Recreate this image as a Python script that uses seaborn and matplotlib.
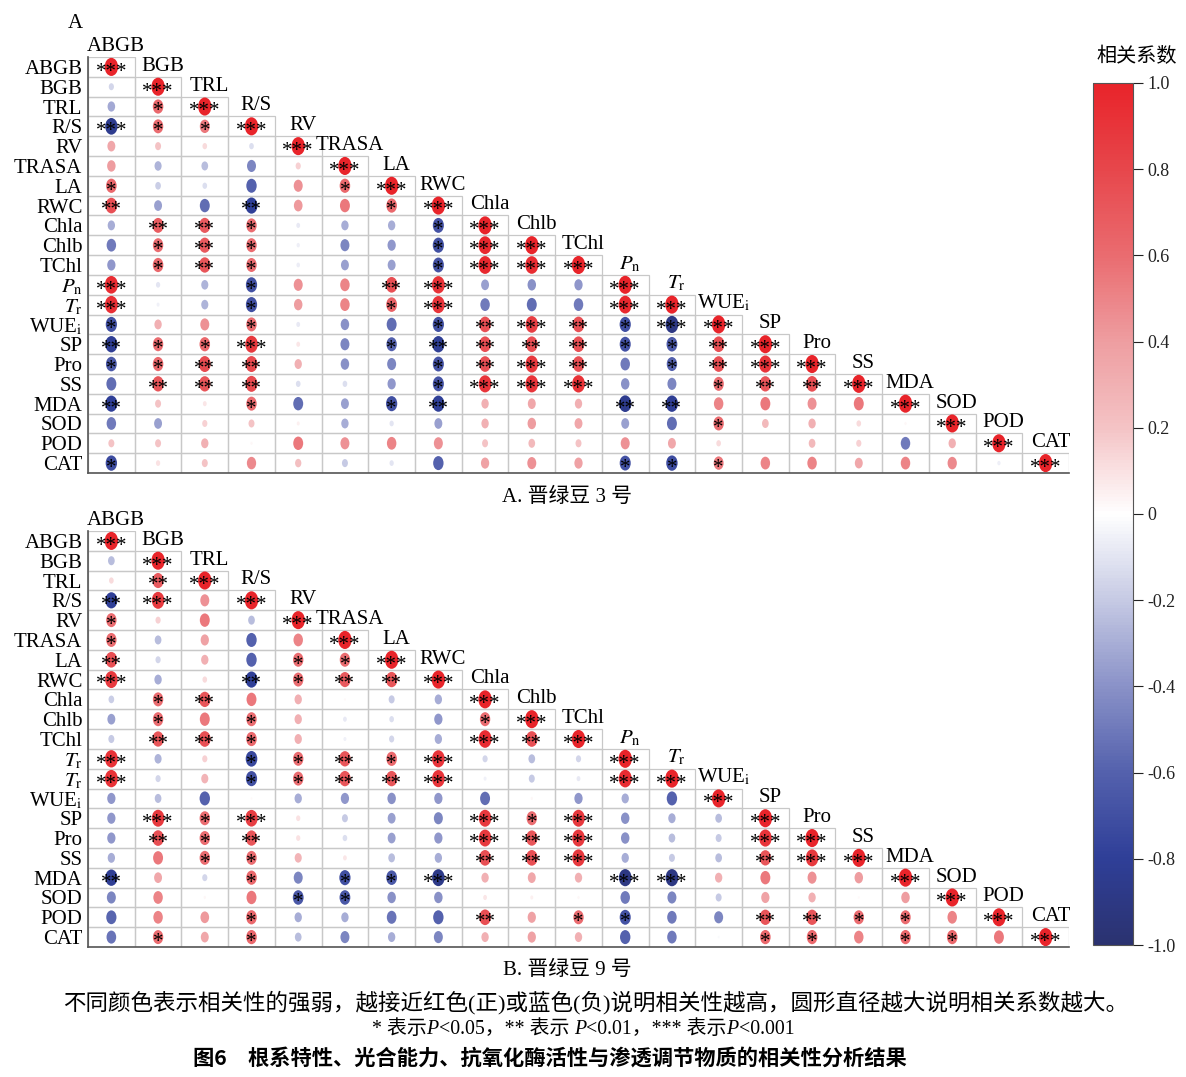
import numpy as np
import pandas as pd
import matplotlib
matplotlib.use("Agg")
import matplotlib.pyplot as plt
import seaborn as sns
from matplotlib.colors import LinearSegmentedColormap, Normalize
from matplotlib.patches import Rectangle
from matplotlib.path import Path
from matplotlib.offsetbox import TextArea, HPacker, AnnotationBbox
import matplotlib.cm as cm

plt.rcParams["font.family"] = ["Liberation Serif", "Noto Sans CJK SC"]
plt.rcParams["mathtext.fontset"] = "stix"
plt.rcParams["axes.unicode_minus"] = False

# variable labels
col_labels = ["ABGB", "BGB", "TRL", "R/S", "RV", "TRASA", "LA", "RWC", "Chla", "Chlb", "TChl",
              r"$P_{\rm n}$", r"$T_{\rm r}$", r"WUE$_{\rm i}$", "SP", "Pro", "SS", "MDA", "SOD", "POD", "CAT"]
row_labels_a = list(col_labels)
row_labels_b = ["ABGB", "BGB", "TRL", "R/S", "RV", "TRASA", "LA", "RWC", "Chla", "Chlb", "TChl",
                r"$T_{\rm r}$", r"$T_{\rm r}$", r"WUE$_{\rm i}$", "SP", "Pro", "SS", "MDA", "SOD", "POD", "CAT"]

# A. 晋绿豆 3 号 - correlation coefficients (lower triangle, row by row)
r_a = [
    [1.0],
    [-0.15, 1.0],
    [-0.32, 0.62, 1.0],
    [-0.85, 0.6, 0.55, 1.0],
    [0.35, 0.2, 0.12, -0.12, 1.0],
    [0.4, -0.28, -0.25, -0.45, 0.15, 1.0],
    [0.62, -0.18, -0.12, -0.6, 0.45, 0.62, 1.0],
    [0.75, -0.35, -0.55, -0.8, 0.42, 0.55, 0.62, 1.0],
    [-0.3, 0.68, 0.7, 0.6, -0.08, -0.3, -0.3, -0.68, 1.0],
    [-0.5, 0.6, 0.7, 0.6, -0.06, -0.45, -0.38, -0.7, 0.97, 1.0],
    [-0.38, 0.62, 0.72, 0.6, -0.07, -0.35, -0.35, -0.68, 0.97, 0.95, 1.0],
    [0.95, -0.1, -0.28, -0.7, 0.45, 0.5, 0.75, 0.92, -0.35, -0.4, -0.38, 1.0],
    [0.93, -0.05, -0.28, -0.7, 0.4, 0.5, 0.65, 0.9, -0.5, -0.55, -0.5, 0.97, 1.0],
    [-0.7, 0.3, 0.45, 0.6, -0.08, -0.4, -0.55, -0.7, 0.75, 0.85, 0.75, -0.7, -0.9, 1.0],
    [-0.82, 0.6, 0.62, 0.88, 0.08, -0.45, -0.6, -0.82, 0.75, 0.75, 0.75, -0.68, -0.65, 0.75, 1.0],
    [-0.65, 0.62, 0.78, 0.78, 0.3, -0.4, -0.45, -0.68, 0.75, 0.88, 0.75, -0.5, -0.6, 0.75, 0.9, 1.0],
    [-0.55, 0.72, 0.72, 0.78, -0.12, -0.12, -0.38, -0.68, 0.9, 0.9, 0.92, -0.4, -0.45, 0.6, 0.72, 0.75, 1.0],
    [-0.8, 0.2, 0.08, 0.6, -0.55, -0.35, -0.7, -0.8, 0.3, 0.35, 0.3, -0.85, -0.82, 0.5, 0.55, 0.45, 0.55, 1.0],
    [-0.5, -0.35, 0.15, 0.2, 0.05, -0.3, -0.1, -0.35, 0.3, 0.4, 0.35, -0.35, -0.55, 0.6, 0.25, 0.3, 0.12, 0.03, 1.0],
    [0.2, 0.2, 0.3, 0.03, 0.55, 0.45, 0.5, 0.45, 0.2, 0.25, 0.2, 0.45, 0.35, 0.12, 0.0, 0.25, 0.15, -0.5, 0.3, 1.0],
    [-0.72, 0.1, 0.2, 0.48, 0.22, -0.2, -0.1, -0.6, 0.38, 0.45, 0.38, -0.68, -0.72, 0.55, 0.5, 0.5, 0.35, 0.5, 0.48, -0.06, 1.0],
]
# number of stars (0 = ns, 1 = P<0.05, 2 = P<0.01, 3 = P<0.001)
p_a = [
    [3],
    [0, 3],
    [0, 1, 3],
    [3, 1, 1, 3],
    [0, 0, 0, 0, 3],
    [0, 0, 0, 0, 0, 3],
    [1, 0, 0, 0, 0, 1, 3],
    [2, 0, 0, 2, 0, 0, 1, 3],
    [0, 2, 2, 1, 0, 0, 0, 1, 3],
    [0, 1, 2, 1, 0, 0, 0, 1, 3, 3],
    [0, 1, 2, 1, 0, 0, 0, 1, 3, 3, 3],
    [3, 0, 0, 1, 0, 0, 2, 3, 0, 0, 0, 3],
    [3, 0, 0, 1, 0, 0, 1, 3, 0, 0, 0, 3, 3],
    [1, 0, 0, 1, 0, 0, 0, 1, 2, 3, 2, 1, 3, 3],
    [2, 1, 1, 3, 0, 0, 1, 2, 2, 2, 2, 1, 1, 2, 3],
    [1, 1, 2, 2, 0, 0, 0, 1, 2, 3, 2, 0, 1, 2, 3, 3],
    [0, 2, 2, 2, 0, 0, 0, 1, 3, 3, 3, 0, 0, 1, 2, 2, 3],
    [2, 0, 0, 1, 0, 0, 1, 2, 0, 0, 0, 2, 2, 0, 0, 0, 0, 3],
    [0, 0, 0, 0, 0, 0, 0, 0, 0, 0, 0, 0, 0, 1, 0, 0, 0, 0, 3],
    [0, 0, 0, 0, 0, 0, 0, 0, 0, 0, 0, 0, 0, 0, 0, 0, 0, 0, 0, 3],
    [1, 0, 0, 0, 0, 0, 0, 0, 0, 0, 0, 1, 1, 1, 0, 0, 0, 0, 0, 0, 3],
]

# B. 晋绿豆 9 号
r_b = [
    [1.0],
    [-0.25, 1.0],
    [0.12, 0.7, 1.0],
    [-0.8, 0.88, 0.45, 1.0],
    [0.6, 0.15, 0.55, -0.25, 1.0],
    [0.6, -0.25, 0.38, -0.6, 0.5, 1.0],
    [0.75, -0.15, 0.3, -0.6, 0.6, 0.6, 1.0],
    [0.88, -0.3, 0.12, -0.8, 0.6, 0.7, 0.72, 1.0],
    [-0.18, 0.6, 0.72, 0.55, 0.3, 0.02, -0.2, -0.3, 1.0],
    [-0.35, 0.6, 0.55, 0.6, 0.3, -0.08, -0.12, -0.38, 0.6, 1.0],
    [-0.2, 0.72, 0.75, 0.62, 0.3, -0.05, -0.15, -0.3, 0.95, 0.75, 1.0],
    [0.92, -0.28, 0.15, -0.75, 0.6, 0.72, 0.62, 0.9, -0.15, -0.25, -0.15, 1.0],
    [0.92, -0.15, 0.28, -0.7, 0.6, 0.72, 0.72, 0.9, -0.05, -0.2, -0.08, 0.95, 1.0],
    [-0.38, -0.25, -0.6, 0.02, -0.3, -0.38, -0.4, -0.38, -0.55, 0.03, -0.38, -0.3, -0.6, 1.0],
    [-0.38, 0.88, 0.6, 0.85, 0.1, -0.2, -0.35, -0.45, 0.88, 0.6, 0.88, -0.4, -0.3, -0.25, 1.0],
    [-0.38, 0.75, 0.6, 0.72, 0.1, -0.12, -0.35, -0.38, 0.88, 0.72, 0.88, -0.4, -0.25, -0.2, 0.9, 1.0],
    [-0.3, 0.55, 0.6, 0.6, 0.28, 0.08, -0.25, -0.3, 0.75, 0.75, 0.88, -0.3, -0.2, -0.25, 0.72, 0.88, 1.0],
    [-0.82, 0.35, -0.15, 0.62, -0.45, -0.7, -0.65, -0.88, 0.3, 0.35, 0.3, -0.9, -0.9, 0.3, 0.55, 0.45, 0.4, 1.0],
    [-0.45, 0.5, 0.03, 0.55, -0.65, -0.65, -0.4, -0.4, 0.08, 0.05, 0.03, -0.5, -0.45, -0.2, 0.38, 0.3, 0.02, 0.4, 1.0],
    [-0.58, 0.5, 0.42, 0.62, -0.3, -0.3, -0.52, -0.6, 0.75, 0.38, 0.6, -0.68, -0.5, -0.45, 0.72, 0.72, 0.6, 0.6, 0.5, 1.0],
    [-0.52, 0.6, 0.35, 0.62, -0.25, -0.45, -0.3, -0.45, 0.3, 0.38, 0.3, -0.6, -0.5, -0.02, 0.62, 0.62, 0.5, 0.62, 0.62, 0.55, 1.0],
]
p_b = [
    [3],
    [0, 3],
    [0, 2, 3],
    [2, 3, 0, 3],
    [1, 0, 0, 0, 3],
    [1, 0, 0, 0, 0, 3],
    [2, 0, 0, 0, 1, 1, 3],
    [3, 0, 0, 2, 1, 2, 2, 3],
    [0, 1, 2, 0, 0, 0, 0, 0, 3],
    [0, 1, 0, 1, 0, 0, 0, 0, 1, 3],
    [0, 2, 2, 1, 0, 0, 0, 0, 3, 2, 3],
    [3, 0, 0, 1, 1, 2, 1, 3, 0, 0, 0, 3],
    [3, 0, 0, 1, 1, 2, 2, 3, 0, 0, 0, 3, 3],
    [0, 0, 0, 0, 0, 0, 0, 0, 0, 0, 0, 0, 0, 3],
    [0, 3, 1, 3, 0, 0, 0, 0, 3, 1, 3, 0, 0, 0, 3],
    [0, 2, 1, 2, 0, 0, 0, 0, 3, 2, 3, 0, 0, 0, 3, 3],
    [0, 0, 1, 1, 0, 0, 0, 0, 2, 2, 3, 0, 0, 0, 2, 3, 3],
    [2, 0, 0, 1, 0, 1, 1, 3, 0, 0, 0, 3, 3, 0, 0, 0, 0, 3],
    [0, 0, 0, 0, 1, 1, 0, 0, 0, 0, 0, 0, 0, 0, 0, 0, 0, 0, 3],
    [0, 0, 0, 1, 0, 0, 0, 0, 2, 0, 1, 1, 0, 0, 2, 2, 1, 1, 0, 3],
    [0, 1, 0, 1, 0, 0, 0, 0, 0, 0, 0, 0, 0, 0, 1, 1, 0, 1, 1, 0, 3],
]

cbar_ticks = [-1.0, -0.8, -0.6, -0.4, -0.2, 0.0, 0.2, 0.4, 0.6, 0.8, 1.0]
cbar_ticklabels = ["-1.0", "-0.8", "-0.6", "-0.4", "-0.2", "0", "0.2", "0.4", "0.6", "0.8", "1.0"]

cmap = LinearSegmentedColormap.from_list("corr", [
    (0.0, "#2b3270"), (0.1, "#2f3f98"), (0.2, "#5461ad"), (0.3, "#8a92c8"),
    (0.4, "#c6cae4"), (0.5, "#ffffff"), (0.6, "#f4c3c5"), (0.7, "#ee9ea1"),
    (0.8, "#ea6c70"), (0.9, "#e7474c"), (1.0, "#e8242a")])

# vertically stretched ellipse marker
uc = Path.unit_circle()
ellipse = Path(uc.vertices * np.array([0.74, 1.0]), uc.codes)

W, H = 1186, 1077
fig = plt.figure(figsize=(W / 100, H / 100), dpi=100)


def frac_box(x0, y0, x1, y1):
    return [x0 / W, 1 - y1 / H, (x1 - x0) / W, (y1 - y0) / H]


def draw_panel(ax, values, stars, row_labels):
    n = len(values)
    recs = []
    for i, (rv, pv) in enumerate(zip(values, stars)):
        for j, (r, p) in enumerate(zip(rv, pv)):
            recs.append({"row": i, "col": j, "r": r, "area": abs(r), "p": p})
    df = pd.DataFrame(recs)

    for i in range(n):
        for j in range(i + 1):
            ax.add_patch(Rectangle((j - 0.5, i - 0.5), 1, 1, fill=False,
                                   ec="#c8c8c8", lw=0.9, zorder=1))

    # area proportional to |r|
    sns.scatterplot(data=df, x="col", y="row", hue="r", palette=cmap, hue_norm=(-1, 1),
                    size="area", sizes=(0, 170), size_norm=(0, 1), marker=ellipse,
                    linewidth=0, legend=False, ax=ax, zorder=2)

    for rec in df.itertuples():
        if rec.p > 0:
            ax.text(rec.col, rec.row + 0.5, "*" * rec.p, ha="center", va="baseline",
                    fontsize=15, color="black", zorder=3)

    ax.plot([-0.5, -0.5], [-0.5, n - 0.5], color="#555555", lw=1.2, zorder=4, clip_on=False)
    ax.plot([-0.5, n - 0.5], [n - 0.5, n - 0.5], color="#555555", lw=1.2, zorder=4, clip_on=False)

    for i, lab in enumerate(row_labels):
        ax.text(-0.62, i, lab, ha="right", va="center_baseline", fontsize=15)
    for j, lab in enumerate(col_labels):
        ax.text(j + 0.1, j - 0.55, lab, ha="center", va="bottom", fontsize=15)

    ax.set_xlim(-0.5, n - 0.5)
    ax.set_ylim(n - 0.5, -0.5)
    ax.axis("off")


ax_a = fig.add_axes(frac_box(88, 57, 1069, 473))
draw_panel(ax_a, r_a, p_a, row_labels_a)
ax_b = fig.add_axes(frac_box(88, 531, 1069, 947))
draw_panel(ax_b, r_b, p_b, row_labels_b)

# colorbar
cax = fig.add_axes(frac_box(1093, 83, 1133, 945))
cb = fig.colorbar(cm.ScalarMappable(norm=Normalize(-1, 1), cmap=cmap), cax=cax, ticks=cbar_ticks)
cb.set_ticklabels(cbar_ticklabels)
cb.ax.tick_params(direction="out", length=7, width=0.8, labelsize=13, colors="#222222")
cb.outline.set_edgecolor("#555555")
cb.outline.set_linewidth(0.8)
fig.text(1137 / W, 1 - 57 / H, "相关系数", ha="center", va="center", fontsize=14.5,
         family=["Noto Sans CJK SC"])

# texts
fig.text(75 / W, 1 - 24 / H, "A", ha="center", va="center", fontsize=15)
fig.text(567 / W, 1 - 497 / H, "A. 晋绿豆 3 号", ha="center", va="center", fontsize=15)
fig.text(567 / W, 1 - 970 / H, "B. 晋绿豆 9 号", ha="center", va="center", fontsize=15)
fig.text(596 / W, 1 - 1003 / H,
         "不同颜色表示相关性的强弱，越接近红色(正)或蓝色(负)说明相关性越高，圆形直径越大说明相关系数越大。",
         ha="center", va="center", fontsize=16.2)

parts = [("* 表示", False), ("P", True), ("<0.05，** 表示 ", False), ("P", True),
         ("<0.01，*** 表示", False), ("P", True), ("<0.001", False)]
boxes = [TextArea(s, textprops=dict(fontsize=14.3, fontstyle="italic" if it else "normal",
                                    family=["Liberation Serif", "Noto Sans CJK SC"]))
         for s, it in parts]
pack = HPacker(children=boxes, align="baseline", pad=0, sep=0)
fig.add_artist(AnnotationBbox(pack, (583 / W, 1 - 1030 / H), xycoords="figure fraction",
                              frameon=False, box_alignment=(0.5, 0.5)))

fig.text(550 / W, 1 - 1058 / H, "图6　根系特性、光合能力、抗氧化酶活性与渗透调节物质的相关性分析结果",
         ha="center", va="center", fontsize=15.3, fontweight="bold", family=["Noto Sans CJK SC"])

fig.savefig("out.png", dpi=100)
